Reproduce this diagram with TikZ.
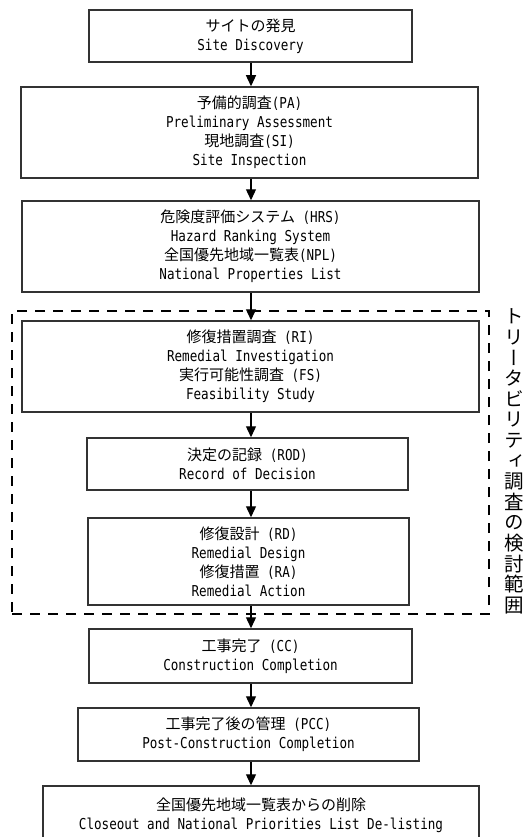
\documentclass[tikz,border=0pt]{standalone}
\usepackage{fontspec}
\usetikzlibrary{arrows.meta}
\newfontfamily\en[FakeStretch=0.84]{DejaVu Sans Mono}
\newfontfamily\jpf{Noto Sans CJK JP}
\newfontfamily\jpv[RawFeature=+vert]{Noto Sans CJK JP}
\newcommand\J[1]{{\jpf #1}}
\tikzset{
  stepbox/.style={draw=black!80, line width=1.5pt, inner sep=0pt, align=center,
    font=\en\fontsize{15}{19}\selectfont, text=black},
  arr/.style={line width=1.3pt, -{Triangle[width=10pt,length=11pt]}},
  scopebox/.style={draw=black, line width=2.6pt, dash pattern=on 10pt off 8pt, inner sep=0pt},
}
\begin{document}
\begin{tikzpicture}[x=1pt,y=-1pt]
\useasboundingbox (0,0) rectangle (532,837);
\clip (0,0) rectangle (532,837);
\coordinate (ax) at (251,0);
% dashed scope frame
\node[scopebox, minimum width=477pt, minimum height=303pt] (scope) at (250.5,462.5) {};
% boxes
\node[stepbox, minimum width=323pt, minimum height=52pt] (b1) at (250.5,36)
  {\J{サイトの発見}\\Site Discovery};
\node[stepbox, minimum width=457pt, minimum height=91pt] (b2) at (249.5,132.5)
  {\J{予備的調査}(PA)\\Preliminary Assessment\\\J{現地調査}(SI)\\Site Inspection};
\node[stepbox, minimum width=457pt, minimum height=91pt] (b3) at (250.5,246.5)
  {\J{危険度評価システム} (HRS)\\Hazard Ranking System\\\J{全国優先地域一覧表}(NPL)\\National Properties List};
\node[stepbox, minimum width=457pt, minimum height=91pt] (b4) at (250.5,366.5)
  {\J{修復措置調査} (RI)\\Remedial Investigation\\\J{実行可能性調査} (FS)\\Feasibility Study};
\node[stepbox, minimum width=321pt, minimum height=52pt] (b5) at (247.5,464)
  {\J{決定の記録} (ROD)\\Record of Decision};
\node[stepbox, minimum width=321pt, minimum height=87pt] (b6) at (248.5,561.5)
  {\J{修復設計} (RD)\\Remedial Design\\\J{修復措置} (RA)\\Remedial Action};
\node[stepbox, minimum width=323pt, minimum height=54pt] (b7) at (250.5,656)
  {\J{工事完了} (CC)\\Construction Completion};
\node[stepbox, minimum width=341pt, minimum height=53pt] (b8) at (248.5,734.5)
  {\J{工事完了後の管理} (PCC)\\Post-Construction Completion};
\node[stepbox, minimum width=436pt, minimum height=58pt] (b9) at (261,815)
  {\J{全国優先地域一覧表からの削除}\\Closeout and National Priorities List De-listing};
% arrows
\foreach \a/\b in {b1/b2,b2/b3,b3/b4,b4/b5,b5/b6,b6/b7,b7/b8,b8/b9}
  \draw[arr] (\a.south -| ax) -- (\b.north -| ax);
% vertical label
\node[align=center, inner sep=0pt, font=\jpv\fontsize{19.5}{20.6}\selectfont] (lbl) at (514,461.5)
  {ト\\リ\\ー\\タ\\ビ\\リ\\テ\\ィ\\調\\査\\の\\検\\討\\範\\囲};
\end{tikzpicture}
\end{document}
